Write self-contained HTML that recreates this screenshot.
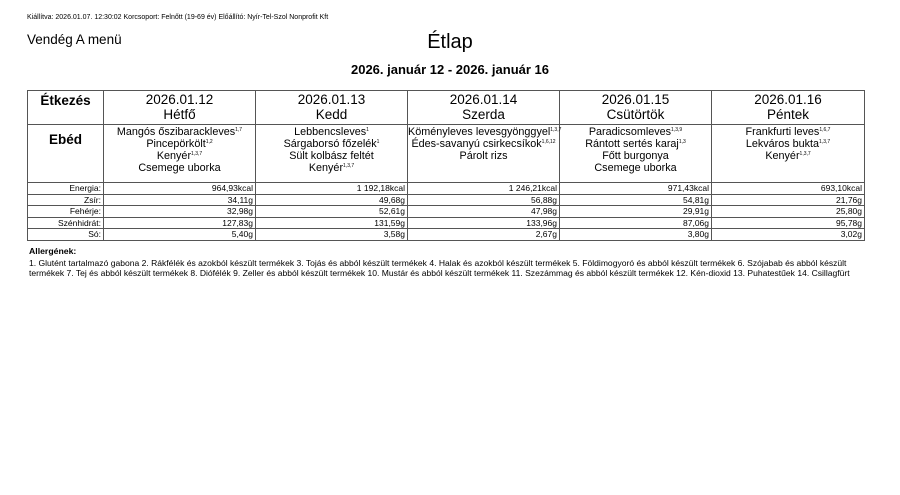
<!DOCTYPE html>
<html><head><meta charset="utf-8"><style>
*{margin:0;padding:0;box-sizing:border-box}
body{width:900px;height:495px;background:#fff;font-family:"Liberation Sans",Arial,sans-serif;color:#000;position:relative;overflow:hidden}
.a{position:absolute;white-space:nowrap}
table{position:absolute;left:27px;top:90px;width:837px;border-collapse:collapse;table-layout:fixed}
td{border:1px solid #555;text-align:center;vertical-align:top;padding:0;white-space:nowrap;overflow:visible}
.h td{height:34px;font-size:13.5px;line-height:14.5px;padding-top:2px}
.h td:first-child{font-weight:bold;padding-top:3px}
.e td{height:58px;font-size:10.8px;line-height:12px;padding-top:1px}
.e td:first-child{font-weight:bold;font-size:13.5px;padding-top:9px}
.n td{height:11.5px;font-size:8.5px;line-height:10px;text-align:right;padding-right:2px;vertical-align:middle}
sup{font-size:5px;vertical-align:4px;line-height:0}
</style></head><body>
<div class="a" style="left:27px;top:14px;font-size:7px">Kiállítva: 2026.01.07. 12:30:02 Korcsoport: Felnőtt (19-69 év) Előállító: Nyír-Tel-Szol Nonprofit Kft</div>
<div class="a" style="left:27px;top:32px;font-size:13.5px">Vendég A menü</div>
<div class="a" style="left:0;width:900px;text-align:center;top:31px;font-size:20px">Étlap</div>
<div class="a" style="left:0;width:900px;text-align:center;top:62px;font-size:13px;font-weight:bold">2026. január 12 - 2026. január 16</div>
<table>
<colgroup><col style="width:76px"><col style="width:152px"><col style="width:152px"><col style="width:152px"><col style="width:152px"><col style="width:153px"></colgroup>
<tr class="h"><td>Étkezés</td><td>2026.01.12<br>Hétfő</td><td>2026.01.13<br>Kedd</td><td>2026.01.14<br>Szerda</td><td>2026.01.15<br>Csütörtök</td><td>2026.01.16<br>Péntek</td></tr>
<tr class="e"><td>Ebéd</td>
<td>Mangós őszibarackleves<sup>1,7</sup><br>Pincepörkölt<sup>1,2</sup><br>Kenyér<sup>1,3,7</sup><br>Csemege uborka</td>
<td>Lebbencsleves<sup>1</sup><br>Sárgaborsó főzelék<sup>1</sup><br>Sült kolbász feltét<br>Kenyér<sup>1,3,7</sup></td>
<td>Köményleves levesgyönggyel<sup>1,3,7</sup><br>Édes-savanyú csirkecsíkok<sup>1,6,12</sup><br>Párolt rizs</td>
<td>Paradicsomleves<sup>1,3,9</sup><br>Rántott sertés karaj<sup>1,3</sup><br>Főtt burgonya<br>Csemege uborka</td>
<td>Frankfurti leves<sup>1,6,7</sup><br>Lekváros bukta<sup>1,3,7</sup><br>Kenyér<sup>1,3,7</sup></td></tr>
<tr class="n"><td>Energia:</td><td>964,93kcal</td><td>1 192,18kcal</td><td>1 246,21kcal</td><td>971,43kcal</td><td>693,10kcal</td></tr>
<tr class="n"><td>Zsír:</td><td>34,11g</td><td>49,68g</td><td>56,88g</td><td>54,81g</td><td>21,76g</td></tr>
<tr class="n"><td>Fehérje:</td><td>32,98g</td><td>52,61g</td><td>47,98g</td><td>29,91g</td><td>25,80g</td></tr>
<tr class="n"><td>Szénhidrát:</td><td>127,83g</td><td>131,59g</td><td>133,96g</td><td>87,06g</td><td>95,78g</td></tr>
<tr class="n"><td>Só:</td><td>5,40g</td><td>3,58g</td><td>2,67g</td><td>3,80g</td><td>3,02g</td></tr>
</table>
<div class="a" style="left:29px;top:246px;font-size:8.7px;font-weight:bold">Allergének:</div>
<div class="a" style="left:29px;top:259px;font-size:8.55px;line-height:9.5px">1. Glutént tartalmazó gabona 2. Rákfélék és azokból készült termékek 3. Tojás és abból készült termékek 4. Halak és azokból készült termékek 5. Földimogyoró és abból készült termékek 6. Szójabab és abból készült<br>termékek 7. Tej és abból készült termékek 8. Diófélék 9. Zeller és abból készült termékek 10. Mustár és abból készült termékek 11. Szezámmag és abból készült termékek 12. Kén-dioxid 13. Puhatestűek 14. Csillagfürt</div>
</body></html>
